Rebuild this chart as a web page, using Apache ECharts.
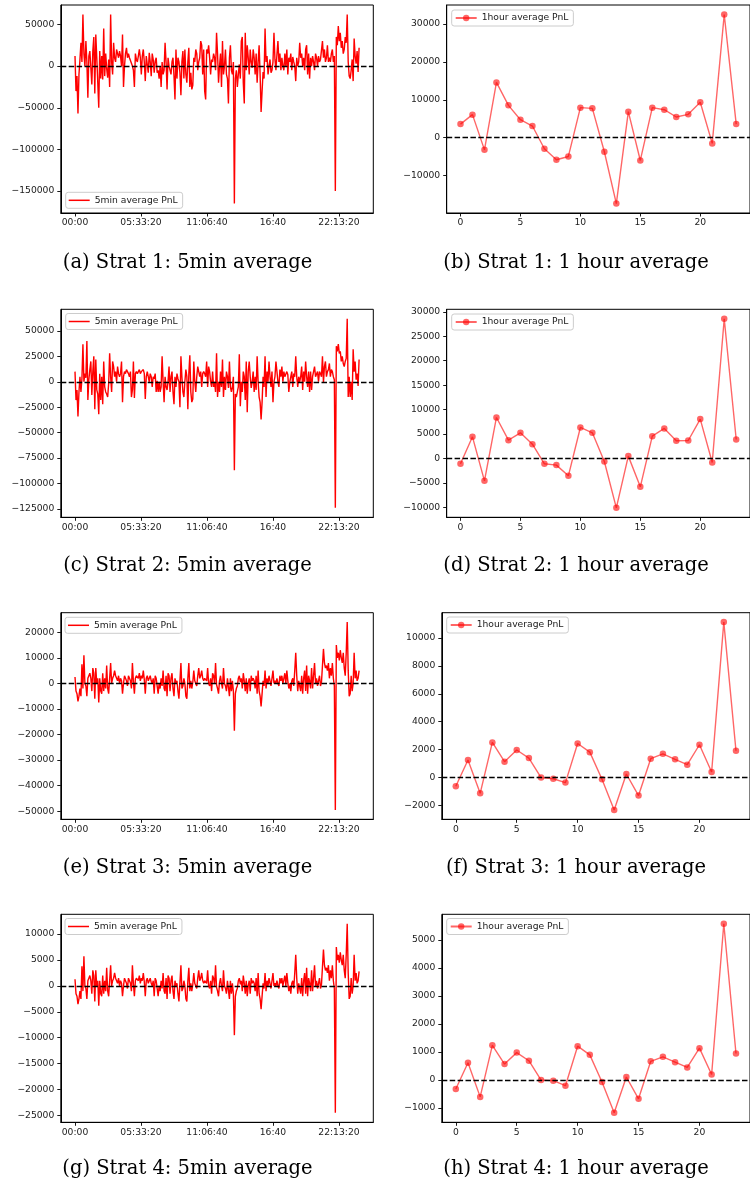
<!DOCTYPE html>
<html><head><meta charset="utf-8">
<script src="https://cdn.jsdelivr.net/npm/echarts@6/dist/echarts.min.js"></script>
<style>html,body{margin:0;padding:0;background:#fff;overflow:hidden}#c{width:750px;height:1184px}</style>
</head><body><div id="c"></div><script>
// ---------- DATA ----------
const hours = [0,1,2,3,4,5,6,7,8,9,10,11,12,13,14,15,16,17,18,19,20,21,22,23];
const timeTickValues = [0,20000,40000,60000,80000];
const timeTickLabels = ['00:00','05:33:20','11:06:40','16:40','22:13:20'];
const hourTicks = [0,5,10,15,20];

const yTicksA = [-150000,-100000,-50000,0,50000];
const yTicksB = [-10000,0,10000,20000,30000];
const yTicksC = [-125000,-100000,-75000,-50000,-25000,0,25000,50000];
const yTicksD = [-10000,-5000,0,5000,10000,15000,20000,25000,30000];
const yTicksE = [-50000,-40000,-30000,-20000,-10000,0,10000,20000];
const yTicksF = [-2000,0,2000,4000,6000,8000,10000];
const yTicksG = [-25000,-20000,-15000,-10000,-5000,0,5000,10000];
const yTicksH = [-1000,0,1000,2000,3000,4000,5000];

const strat1_5min = [
12000,-30000,-12000,-57000,-10000,8000,28000,5000,62000,15000,0,30000,
5000,-38000,12000,18000,20000,-22000,18000,35000,-33000,38000,10000,8000,
-50000,18000,-15000,12000,-16000,45000,-12000,15000,-3000,-14000,8000,-25000,
62000,5000,-10000,28000,10000,5000,20000,15000,10000,18000,12000,0,
38000,-25000,0,15000,22000,10000,15000,10000,12000,12000,0,-5000,
-25000,15000,8000,5000,12000,20000,10000,-10000,12000,20000,5000,-18000,
12000,10000,-8000,16000,5000,-12000,15000,8000,-8000,6000,10000,-8000,
-5000,-15000,0,-25000,5000,-10000,-5000,28000,5000,-28000,10000,0,
0,-10000,5000,10000,-12000,-40000,20000,-15000,10000,5000,-8000,-35000,
5000,18000,-15000,20000,-10000,-20000,5000,22000,-25000,-8000,-28000,-23000,
10000,5000,20000,15000,-5000,5000,10000,30000,25000,-10000,20000,-30000,
-40000,20000,15000,25000,10000,-10000,8000,5000,15000,10000,-5000,40000,
15000,-20000,0,15000,-25000,30000,-10000,0,20000,-10000,-15000,-45000,
10000,25000,-5000,-10000,5000,-165000,-15000,-5000,-25000,-10000,2000,-15000,
30000,35000,-20000,-45000,40000,-5000,25000,10000,-10000,20000,5000,-2000,
20000,10000,-10000,15000,-20000,5000,25000,-10000,-55000,-30000,-7000,-15000,
45000,5000,12000,-10000,0,8000,-8000,-5000,5000,40000,8000,-5000,
14000,30000,5000,15000,-5000,10000,0,-5000,15000,0,20000,-10000,
10000,5000,15000,-5000,11000,5000,0,-18000,10000,0,5000,28000,
10000,15000,0,10000,-5000,20000,25000,-10000,15000,-15000,10000,0,
12000,5000,-5000,15000,10000,0,12000,5000,8000,10000,30000,10000,
20000,5000,10000,25000,5000,10000,5000,15000,20000,5000,12000,-150000,
35000,25000,48000,30000,40000,22000,30000,15000,20000,35000,28000,62000,
5000,-12000,-15000,-5000,8000,-18000,33000,12000,3000,18000,-7000,22000
];
const strat2_5min = [
10000,-18000,-8000,-34000,-10000,5000,-10000,3000,37000,0,8000,4000,
40000,-18000,2000,12000,20000,-13000,10000,25000,-27000,22000,-8000,-12000,
-32000,8000,-18000,5000,-22000,20000,-5000,-10000,-12000,-15000,-2000,28000,
5000,-10000,20000,15000,5000,10000,0,15000,8000,5000,8000,20000,
-20000,5000,10000,8000,12000,10000,8000,5000,10000,-15000,-8000,20000,
-16000,8000,10000,8000,10000,12000,8000,10000,10000,12000,8000,-17000,
5000,10000,5000,0,8000,5000,-5000,5000,3000,8000,-10000,1000,
-10000,0,-10000,-5000,25000,0,-20000,5000,-5000,-8000,0,15000,
-10000,5000,10000,-10000,-22000,5000,-5000,8000,3000,0,-25000,25000,
5000,-10000,-15000,0,12000,5000,-27000,8000,26000,-10000,-20000,-17000,
20000,0,-10000,5000,15000,10000,5000,10000,-5000,8000,10000,8000,
5000,20000,-5000,15000,10000,0,-5000,10000,-5000,0,-10000,28000,
-15000,0,-10000,10000,-5000,22000,-15000,5000,-8000,10000,5000,-6000,
20000,-5000,-10000,-5000,5000,-87000,-12000,-15000,-10000,-5000,27000,-24000,
0,-10000,10000,5000,-18000,20000,-30000,10000,20000,5000,-6000,0,
10000,-10000,5000,-8000,25000,0,-15000,-20000,-37000,-20000,5000,-5000,
25000,-15000,10000,0,20000,5000,-5000,10000,-20000,0,5000,20000,
10000,0,-5000,12000,5000,15000,0,10000,5000,5000,10000,7000,
-10000,0,5000,10000,-5000,8000,5000,25000,5000,-5000,5000,0,
5000,15000,-8000,10000,0,20000,5000,-5000,10000,-10000,10000,-8000,
5000,10000,15000,5000,5000,10000,0,10000,8000,5000,25000,-1000,
15000,20000,5000,10000,12000,18000,5000,12000,10000,5000,2000,-124000,
35000,30000,37000,28000,30000,20000,25000,18000,15000,20000,23000,62000,
-15000,5000,-15000,0,-18000,32000,10000,20000,2000,8000,-4000,22000
];
const strat3_5min = [
2500,-3000,-4000,-7000,-5000,-2000,-5000,7500,-2000,11000,0,-1000,
-5000,2000,3000,4000,2000,-3000,6000,4000,-6000,6000,0,2000,
-7500,2000,-3000,-4000,4000,-3000,2000,-2000,7000,-2000,-4000,-3500,
8000,0,2000,3000,5000,3000,2000,1000,3000,0,2000,1000,
-4000,0,3000,2000,1000,-1000,3000,2000,1000,-2000,8000,500,
-4000,2000,3000,3000,2000,4000,1000,3000,2000,5000,1500,-4000,
2000,3000,1000,2000,3000,1000,0,2000,-4000,3000,2000,1500,
-4000,0,-2000,2000,-1000,5000,-2000,-3000,3000,-5000,4000,3000,
-3000,2000,4000,-2000,-5000,2000,0,1000,-3000,-6000,1000,8000,
-2000,-1000,2000,0,-5000,-6000,2000,8000,-2000,1000,-2000,500,
5000,1000,0,-1000,3000,6000,2000,3000,5000,2000,1000,2000,
2000,1000,6000,0,-1000,2000,-3000,4000,3000,0,8000,-500,
-2000,-4000,1000,3000,0,-2000,6000,0,-1000,-3000,2000,-1500,
-5000,2000,-3000,1000,-3000,-18500,-4000,-2000,-1000,2000,3000,500,
2000,-2000,4000,1000,-3000,2000,-4000,0,2000,-3000,3000,1000,
2000,1000,-2000,3000,-4000,5000,-3000,-5000,-9000,-4000,1000,-1000,
5000,-2000,2000,0,3000,1000,-1000,2000,5000,0,1000,0,
2000,0,-1000,3000,1000,3000,0,2000,4000,0,5000,1000,
-2000,0,-3000,1000,2000,-1000,5000,12000,3000,-3000,1000,500,
-3000,3000,-4000,2000,5000,-3000,7000,-4000,3000,1000,-2000,6000,
-2000,3000,8000,0,2000,-1000,1000,3000,-1000,500,1000,13500,
8000,6000,7000,5000,8000,2000,6000,3000,8000,2000,-1000,-49500,
15000,10000,12000,9000,13000,10000,8000,12000,6000,3000,12000,24000,
5000,-5000,-4000,3000,-3000,0,12000,2000,5000,1000,2000,5000
];
const strat4_5min = [
1300,-1500,-2000,-3500,-2500,-1000,-2500,3800,-1000,5700,0,-500,
-2500,1000,1500,2000,1000,-1500,3000,2000,-3000,3000,0,1000,
-3800,1000,-1500,-2000,2000,-1500,1000,-1000,3500,-1000,-2000,-1800,
4000,0,1000,1500,2500,1500,1000,500,1500,0,1000,500,
-2000,0,1500,1000,500,-500,1500,1000,500,-1000,4000,300,
-2000,1000,1500,1500,1000,2000,500,1500,1000,2500,800,-2000,
1000,1500,500,1000,1500,500,0,1000,-2000,1500,1000,800,
-2000,0,-1000,1000,-500,2500,-1000,-1500,1500,-2500,2000,1500,
-1500,1000,2000,-1000,-2500,1000,0,500,-1500,-3000,500,4000,
-1000,-500,1000,0,-2500,-3000,1000,3500,-1000,500,-1000,300,
2500,500,0,-500,1500,3000,1000,1500,2500,1000,500,1000,
1000,500,3000,0,-500,1000,-1500,2000,1500,0,4000,-300,
-1000,-2000,500,1500,0,-1000,3000,0,-500,-1500,1000,-800,
-2500,1000,-1500,500,-1500,-9500,-2000,-1000,-500,1000,1500,300,
1000,-1000,2000,500,-1500,1000,-2000,0,1000,-1500,1500,500,
1000,500,-1000,1500,-2000,2500,-1500,-2500,-4500,-2000,500,-500,
2500,-1000,1000,0,1500,500,-500,1000,2500,0,500,0,
1000,0,-500,1500,500,1500,0,1000,2000,0,2500,500,
-1000,0,-1500,500,1000,-500,2500,6000,1500,-1500,500,300,
-1500,1500,-2000,1000,2500,-1500,3500,-2000,1500,500,-1000,3000,
-1000,1500,4000,0,1000,-500,500,1500,-500,300,500,7000,
4000,3000,3500,2500,4000,1000,3000,1500,4000,1000,-500,-24500,
7500,5000,6000,4500,6500,5000,4000,6000,3000,1500,6000,12000,
2500,-2500,-2000,1500,-1500,0,6000,1000,2500,500,1000,2800
];

const strat1_hour = [3600,6100,-3200,14600,8550,4760,3090,-2900,-5800,-4940,7940,7760,-3700,-17370,6880,-6000,7940,7400,5470,6170,9350,-1500,32540,3600];
const strat2_hour = [-1090,4430,-4570,8390,3750,5250,2930,-1090,-1360,-3550,6340,5250,-610,-10100,480,-5800,4570,6140,3620,3680,8050,-820,28580,3890];
const strat3_hour = [-640,1240,-1150,2510,1120,1960,1380,-20,-100,-380,2430,1810,-140,-2340,240,-1310,1340,1690,1290,910,2340,380,11150,1910];
const strat4_hour = [-320,620,-600,1240,570,980,690,0,-20,-200,1210,900,-70,-1170,110,-670,670,830,640,450,1140,200,5580,950];

const captions = [
 '(a) Strat 1: 5min average','(b) Strat 1: 1 hour average',
 '(c) Strat 2: 5min average','(d) Strat 2: 1 hour average',
 '(e) Strat 3: 5min average','(f) Strat 3: 1 hour average',
 '(g) Strat 4: 5min average','(h) Strat 4: 1 hour average'
];
const NAME5 = '5min average PnL';
const NAMEH = '1hour average PnL';

// time of day (seconds) for each 5-minute sample
const times5min = strat1_5min.map((_, i) => i * 300);

// ---------- LAYOUT ----------
const L5 = {left:60.8, width:312.5};
const LH1 = {left:446.7, width:313.7};
const LH2 = {left:441.8, width:312};
const rows = [{top:5,height:208},{top:309.3,height:208},{top:612.7,height:206.6},{top:914.3,height:208}];
const panels = [
 {kind:'5', values:strat1_5min, yTicks:yTicksA, col:L5, row:0, lg:{left:65.7, top:192.3}, cap:[187.5,262.5]},
 {kind:'h', values:strat1_hour, yTicks:yTicksB, col:LH1, row:0, lg:{left:451.7, top:10}, cap:[576,262.5]},
 {kind:'5', values:strat2_5min, yTicks:yTicksC, col:L5, row:1, lg:{left:65.7, top:313.5}, cap:[187.5,565.5]},
 {kind:'h', values:strat2_hour, yTicks:yTicksD, col:LH1, row:1, lg:{left:451.7, top:314}, cap:[576,565.5]},
 {kind:'5', values:strat3_5min, yTicks:yTicksE, col:L5, row:2, lg:{left:65, top:617.3}, cap:[187.5,868]},
 {kind:'h', values:strat3_hour, yTicks:yTicksF, col:LH2, row:2, lg:{left:446.7, top:617}, cap:[576,868]},
 {kind:'5', values:strat4_5min, yTicks:yTicksG, col:L5, row:3, lg:{left:65, top:918.5}, cap:[187.5,1168.5]},
 {kind:'h', values:strat4_hour, yTicks:yTicksH, col:LH2, row:3, lg:{left:446.7, top:918.5}, cap:[576,1168.5]}
];

const tickFont = {fontFamily:'DejaVu Sans', fontSize:9.2, color:'#1a1a1a'};
const minus = v => (v < 0 ? '\u2212' + Math.abs(v) : String(v));
function padRange(arr){ const mn=Math.min(...arr), mx=Math.max(...arr), p=(mx-mn)*0.05; return [mn-p, mx+p]; }

const grids=[], xAxes=[], yAxes=[], series=[], legends=[], graphics=[];
panels.forEach((p,k)=>{
  const r = rows[p.row];
  grids.push({show:true, left:p.col.left, top:r.top, width:p.col.width, height:r.height,
    borderColor:'#000', borderWidth:1, backgroundColor:'#fff'});
  const is5 = p.kind === '5';
  const xs = is5 ? times5min : hours;
  const xr = padRange(xs), yr = padRange(p.values);
  const xTicks = is5 ? timeTickValues : hourTicks;
  const xFmt = is5 ? (v => timeTickLabels[timeTickValues.indexOf(v)]) : (v => String(v));
  xAxes.push({gridIndex:k, type:'value', min:xr[0], max:xr[1],
    axisLine:{show:true, onZero:false, lineStyle:{color:'#000', width:1}},
    axisTick:{show:true, length:3.5, customValues:xTicks, lineStyle:{color:'#000', width:0.9}},
    axisLabel:Object.assign({customValues:xTicks, formatter:xFmt, margin:5.5}, tickFont),
    splitLine:{show:false}});
  yAxes.push({gridIndex:k, type:'value', min:yr[0], max:yr[1],
    axisLine:{show:true, onZero:false, lineStyle:{color:'#000', width:1}},
    axisTick:{show:true, length:3.5, customValues:p.yTicks, lineStyle:{color:'#000', width:0.9}},
    axisLabel:Object.assign({customValues:p.yTicks, formatter:minus, margin:6.5}, tickFont),
    splitLine:{show:false}});
  const data = xs.map((x,i)=>[x, p.values[i]]);
  const zeroLine = {silent:true, symbol:'none', label:{show:false}, z:10,
    lineStyle:{type:[5.5,2.4], color:'#000', width:1.4}, emphasis:{disabled:true}, data:[{yAxis:0}]};
  if (is5) {
    series.push({type:'line', name:NAME5, xAxisIndex:k, yAxisIndex:k, data, symbol:'none', showSymbol:false,
      lineStyle:{color:'#ff0000', width:1.4}, itemStyle:{color:'#ff0000'}, markLine:zeroLine, animation:false});
  } else {
    series.push({type:'line', name:NAMEH, xAxisIndex:k, yAxisIndex:k, data, symbol:'circle', symbolSize:6.5,
      lineStyle:{color:'rgba(255,0,0,0.6)', width:1.4}, itemStyle:{color:'rgba(255,0,0,0.6)'}, markLine:zeroLine, animation:false});
  }
  legends.push({show:true, left:p.lg.left, top:p.lg.top, orient:'horizontal',
    data:[is5 ? {name:NAME5, icon:'rect', itemStyle:{color:'#ff0000'}} : {name:NAMEH}],
    itemWidth:21, itemHeight: is5 ? 1.5 : 8, padding:[3,5,3,3], itemGap:0,
    backgroundColor:'rgba(255,255,255,0.8)', borderColor:'#cccccc', borderWidth:1, borderRadius:2.5,
    textStyle:{fontFamily:'DejaVu Sans', fontSize:9.2, color:'#1a1a1a', lineHeight:10},
    selectedMode:false});
  graphics.push({type:'text', x:p.cap[0], y:p.cap[1],
    style:{text:captions[k], font:'19.5px "DejaVu Serif"', fill:'#000', align:'center', verticalAlign:'middle', textAlign:'center', textVerticalAlign:'middle'}});
});

const chart = echarts.init(document.getElementById('c'), null, {renderer:'canvas', width:750, height:1184});
chart.setOption({backgroundColor:'#fff', animation:false, grid:grids, xAxis:xAxes, yAxis:yAxes,
  series, legend:legends, graphic:graphics, tooltip:{show:false}});
</script></body></html>
